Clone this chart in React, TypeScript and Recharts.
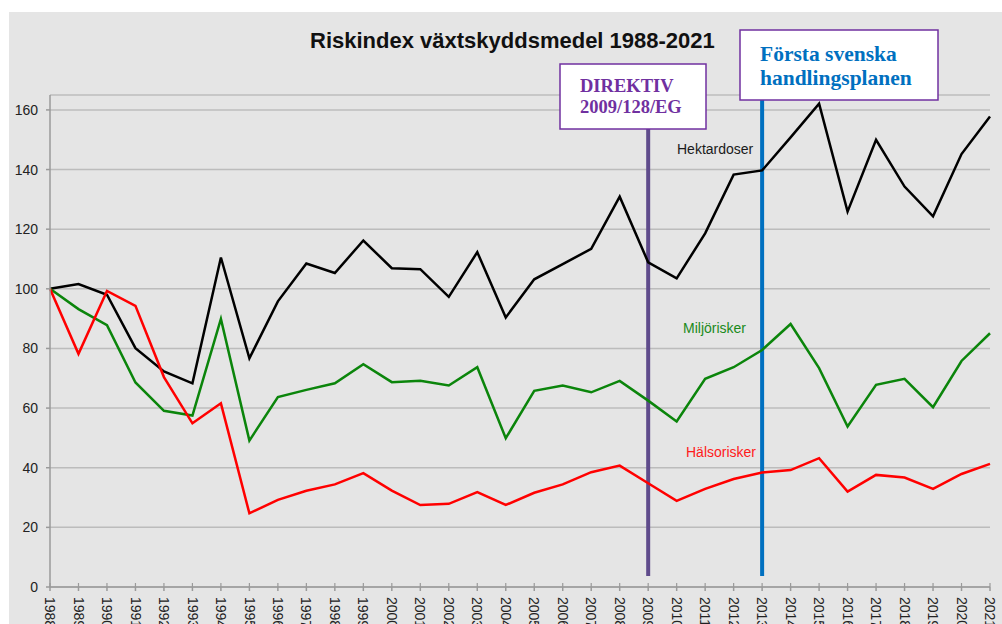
import { LineChart, Line, XAxis, YAxis, CartesianGrid, ReferenceLine } from "recharts";

const years = [
  "1988", "1989", "1990", "1991", "1992", "1993", "1994", "1995", "1996", "1997", "1998", "1999",
  "2000", "2001", "2002", "2003", "2004", "2005", "2006", "2007", "2008", "2009", "2010", "2011",
  "2012", "2013", "2014", "2015", "2016", "2017", "2018", "2019", "2020", "2021",
];

const hektardoser = [
  100, 101.6, 98, 80.1, 72.3, 68.3, 110.5, 76.7, 95.8, 108.5, 105.3, 116.2,
  106.9, 106.6, 97.3, 112.3, 90.4, 103.2, 108.3, 113.4, 130.9, 108.9, 103.5, 118.6,
  138.3, 139.7, 150.8, 162.1, 125.9, 150, 134.3, 124.3, 145.2, 157.8,
];

const miljorisker = [
  100, 93.2, 87.8, 68.6, 59.1, 57.5, 89.9, 49.1, 63.7, 66.1, 68.3, 74.7,
  68.7, 69.2, 67.6, 73.7, 49.9, 65.8, 67.6, 65.3, 69.1, 62.5, 55.5, 69.8,
  73.7, 79.5, 88.2, 73.4, 53.8, 67.8, 69.8, 60.3, 75.8, 85.1,
];

const halsorisker = [
  100, 78.2, 99.3, 94.3, 70.4, 54.9, 61.6, 24.7, 29.2, 32.3, 34.4, 38.2,
  32.3, 27.5, 27.9, 31.8, 27.5, 31.6, 34.4, 38.5, 40.7, 34.8, 28.9, 32.9,
  36.2, 38.4, 39.2, 43.2, 32.0, 37.6, 36.7, 32.9, 37.9, 41.3,
];

const yTicks = [0, 20, 40, 60, 80, 100, 120, 140, 160];

const data = years.map((year, i) => ({
  year,
  hektardoser: hektardoser[i],
  miljorisker: miljorisker[i],
  halsorisker: halsorisker[i],
}));

const SANS = "'Liberation Sans', Arial, Helvetica, sans-serif";
const SERIF = "'Liberation Serif', 'Times New Roman', serif";

function XTick(props: any) {
  const { x, y, payload } = props;
  return (
    <g>
      <line x1={x} x2={x} y1={y - 14} y2={y - 10} stroke="#9a9a9a" strokeWidth={1.2} />
      <text
        x={x}
        y={y}
        transform={`rotate(90 ${x} ${y})`}
        textAnchor="start"
        dy="0.35em"
        fontSize={14}
        fontFamily={SANS}
        fill="#222"
      >
        {payload.value}
      </text>
    </g>
  );
}

export default function App() {
  return (
    <div style={{ position: "absolute", left: 0, top: 0, width: 1002, height: 624, background: "#fff", overflow: "hidden" }}>
      <div style={{ position: "absolute", left: 9, top: 12, right: 0, bottom: 0, background: "#e5e5e5" }} />
      <div style={{ position: "absolute", left: 0, top: 0 }}>
        <LineChart
          width={1002}
          height={624}
          data={data}
          margin={{ top: 95, right: 12, left: 0, bottom: 0 }}
        >
          <CartesianGrid vertical={false} stroke="#bcbcbc" strokeWidth={1.5} />
          <XAxis
            dataKey="year"
            height={37}
            interval={0}
            tickSize={4}
            tickMargin={6}
            stroke="#9a9a9a"
            strokeWidth={1.5}
            tick={<XTick />}
          />
          <YAxis
            width={50}
            domain={[0, 165]}
            ticks={yTicks}
            interval={0}
            tickSize={4}
            tickMargin={8}
            stroke="#9a9a9a"
            strokeWidth={1.5}
            tick={{ fontSize: 14, fontFamily: SANS, fill: "#222" }}
          />
          <ReferenceLine
            segment={[{ x: "2009", y: 3.7 }, { x: "2009", y: 165 }]}
            stroke="#5f4b8b"
            strokeWidth={4}
          />
          <ReferenceLine
            segment={[{ x: "2013", y: 3.7 }, { x: "2013", y: 165 }]}
            stroke="#0070c0"
            strokeWidth={4}
          />
          <Line type="linear" dataKey="hektardoser" stroke="#000" strokeWidth={2.5} dot={false} isAnimationActive={false} />
          <Line type="linear" dataKey="miljorisker" stroke="#0b850b" strokeWidth={2.5} dot={false} isAnimationActive={false} />
          <Line type="linear" dataKey="halsorisker" stroke="#ff0000" strokeWidth={2.5} dot={false} isAnimationActive={false} />
        </LineChart>
      </div>
      <svg width={1002} height={624} style={{ position: "absolute", left: 0, top: 0, pointerEvents: "none" }}>
        <text x={310} y={48} fontSize={22} fontWeight="bold" fontFamily={SANS} fill="#111">
          Riskindex växtskyddsmedel 1988-2021
        </text>

        <rect x={560} y={64} width={146} height={65} fill="#fff" stroke="#7030a0" strokeWidth={1.5} />
        <text x={580} y={92} fontSize={18.5} fontWeight="bold" fontFamily={SERIF} fill="#7030a0">DIREKTIV</text>
        <text x={580} y={113} fontSize={18.5} fontWeight="bold" fontFamily={SERIF} fill="#7030a0">2009/128/EG</text>

        <rect x={740} y={30} width={198} height={70} fill="#fff" stroke="#7030a0" strokeWidth={1.5} />
        <text x={760} y={61} fontSize={21.5} fontWeight="bold" fontFamily={SERIF} fill="#0070c0">Första svenska</text>
        <text x={760} y={85} fontSize={21.5} fontWeight="bold" fontFamily={SERIF} fill="#0070c0">handlingsplanen</text>

        <text x={677} y={154} fontSize={14} fontFamily={SANS} fill="#1a1a1a">Hektardoser</text>
        <text x={683} y={333} fontSize={14} fontFamily={SANS} fill="#1a8a1a">Miljörisker</text>
        <text x={686} y={457} fontSize={14} fontFamily={SANS} fill="#ff1a1a">Hälsorisker</text>
      </svg>
    </div>
  );
}
